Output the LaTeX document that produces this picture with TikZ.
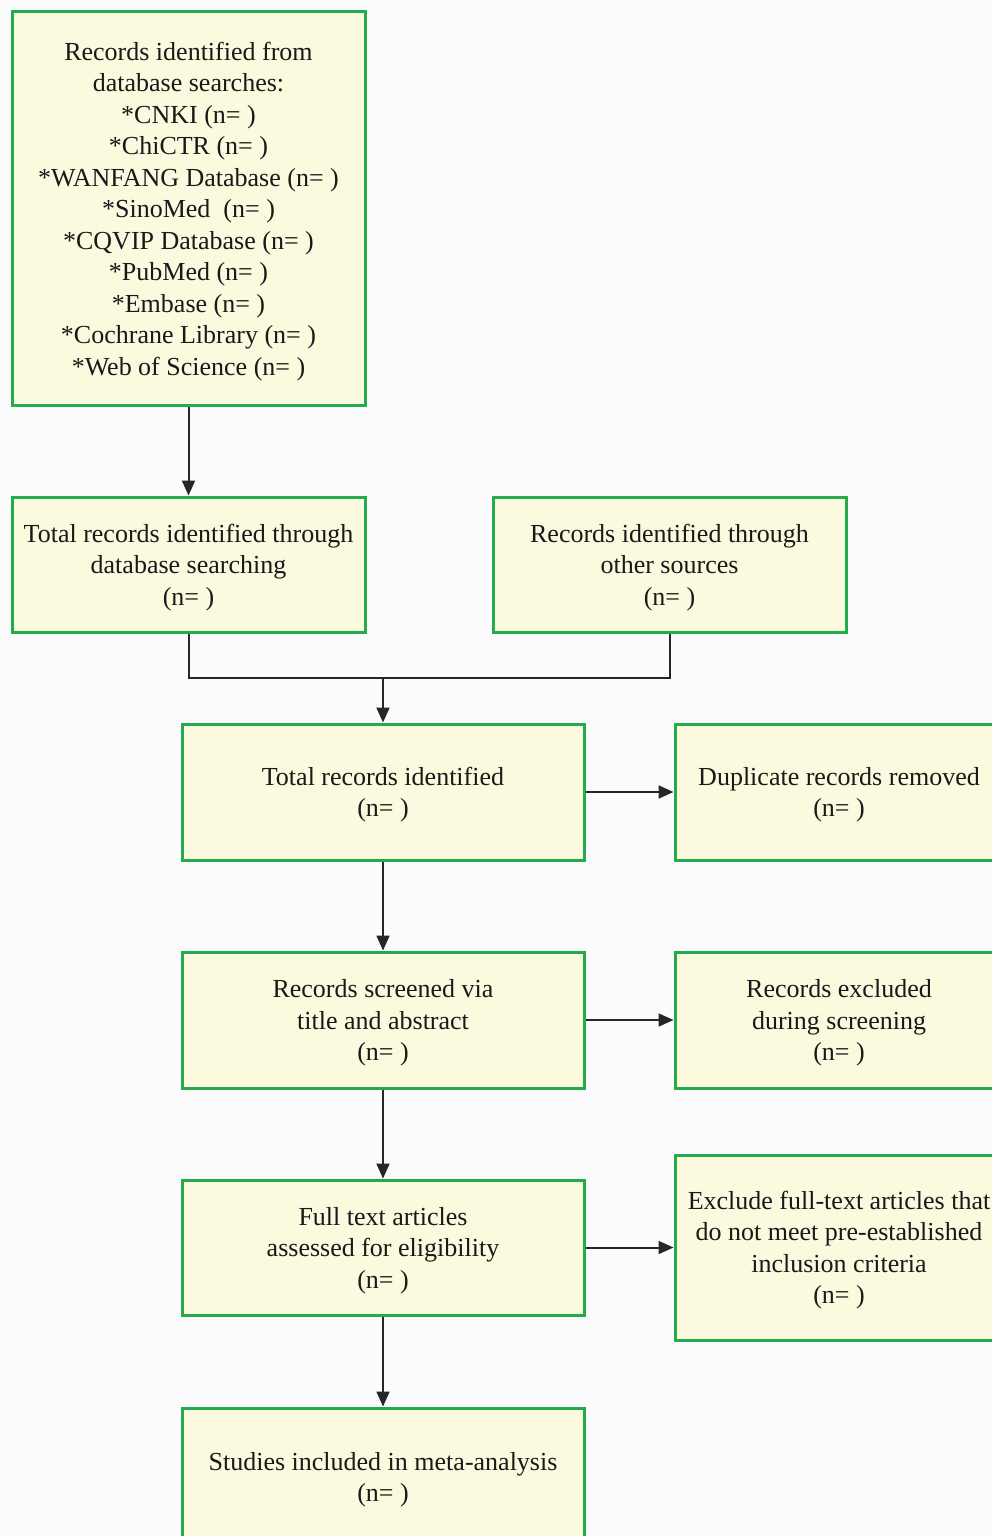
\documentclass[tikz,border=0pt]{standalone}
\usepackage{fontspec}
\setmainfont{Liberation Serif}
\usetikzlibrary{arrows.meta}
\definecolor{boxgreen}{RGB}{34,172,76}
\definecolor{boxfill}{RGB}{251,249,222}
\definecolor{bg}{RGB}{251,251,253}
\tikzset{
  box/.style={draw=boxgreen, line width=3pt, fill=boxfill, align=center, inner sep=0pt,
    font=\fontsize{26}{31.5}\selectfont, text=black!90, text depth=0pt},
  conn/.style={line width=2pt, draw=black!85},
  arr/.style={conn, -{Triangle[length=15pt,width=13pt]}}
}
\begin{document}
\begin{tikzpicture}[x=1pt,y=-1pt]
\useasboundingbox (0,0) rectangle (992,1536);
\clip (0,0) rectangle (992,1536);
\fill[bg] (0,0) rectangle (992,1536);
\node[box, minimum width=353pt, minimum height=393pt] (src) at (188.5,208.5)
 {Records identified from\\database searches:\\*CNKI (n= )\\*ChiCTR (n= )\\*WANFANG Database (n= )\\*SinoMed\ \ (n= )\\*CQVIP Database (n= )\\*PubMed (n= )\\*Embase (n= )\\*Cochrane Library (n= )\\*Web of Science (n= )};
\node[box, minimum width=353pt, minimum height=135pt] (db) at (188.5,564.5)
 {Total records identified through\\database searching\\(n= )};
\node[box, minimum width=353pt, minimum height=135pt] (other) at (669.5,564.5)
 {Records identified through\\other sources\\(n= )};
\node[box, minimum width=402pt, minimum height=136pt] (total) at (383,792)
 {Total records identified\\(n= )};
\node[box, minimum width=328pt, minimum height=136pt] (dup) at (839,792)
 {Duplicate records removed\\(n= )};
\node[box, minimum width=402pt, minimum height=136pt] (screen) at (383,1020)
 {Records screened via\\title and abstract\\(n= )};
\node[box, minimum width=328pt, minimum height=136pt] (excl) at (839,1020)
 {Records excluded\\during screening\\(n= )};
\node[box, minimum width=402pt, minimum height=135pt] (full) at (383,1247.5)
 {Full text articles\\assessed for eligibility\\(n= )};
\node[box, minimum width=328pt, minimum height=185pt] (exft) at (839,1247.5)
 {Exclude full-text articles that\\do not meet pre-established\\inclusion criteria\\(n= )};
\node[box, minimum width=402pt, minimum height=138pt] (incl) at (383,1477)
 {Studies included in meta-analysis\\(n= )};
\coordinate (m) at (383,678);
\draw[arr] (src.south) -- (db.north);
\draw[conn] (db.south) |- (m) -| (other.south);
\draw[arr] (m) -- (total.north);
\draw[arr] (total.east) -- (dup.west);
\draw[arr] (total.south) -- (screen.north);
\draw[arr] (screen.east) -- (excl.west);
\draw[arr] (screen.south) -- (full.north);
\draw[arr] (full.east) -- (exft.west);
\draw[arr] (full.south) -- (incl.north);
\end{tikzpicture}
\end{document}
